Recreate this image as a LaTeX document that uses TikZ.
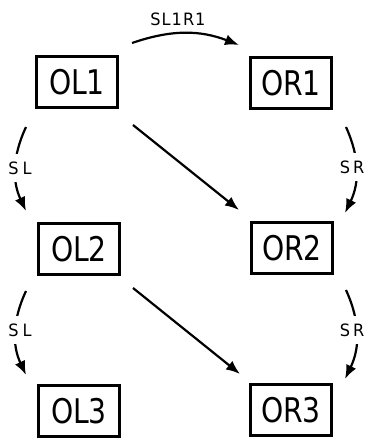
\documentclass[tikz,border=0pt]{standalone}
\usepackage{fontspec}
\setmainfont{DejaVu Sans}
\newfontfamily\boxfont[FakeStretch=0.83]{DejaVu Sans}
\newfontfamily\labfont[FakeStretch=0.95]{DejaVu Sans}
\usetikzlibrary{arrows.meta}
\tikzset{
  statebox/.style={draw, line width=2.3pt, minimum width=81pt, minimum height=51pt, inner sep=0pt,
    font=\boxfont\fontsize{34}{36}\selectfont},
  arr/.style={line width=2.2pt, -{Latex[length=14pt,width=11pt]}},
  lab/.style={font=\labfont\fontsize{17}{20}\selectfont},
  arclab/.style={lab, fill=white, inner xsep=1pt, inner ysep=8pt},
}
\begin{document}
\begin{tikzpicture}[x=1pt,y=-1pt]
\useasboundingbox (0,0) rectangle (366,441);
\node[statebox] (OL1) at (77,82) {OL1};
\node[statebox] (OR1) at (291,83) {OR1};
\node[statebox] (OL2) at (79,249) {OL2};
\node[statebox] (OR2) at (292,248) {OR2};
\node[statebox] (OL3) at (79,411) {OL3};
\node[statebox] (OR3) at (291,410) {OR3};
% connector ends
\coordinate (t1) at (132,43);   \coordinate (t2) at (239,45);
\coordinate (l1a) at (26,127);  \coordinate (l1b) at (26,211);
\coordinate (r1a) at (346,127); \coordinate (r1b) at (345,213);
\coordinate (l2a) at (26,291);  \coordinate (l2b) at (26,375);
\coordinate (r2a) at (346,290); \coordinate (r2b) at (345,379);
\coordinate (d1a) at (133,125); \coordinate (d1b) at (239,210);
\coordinate (d2a) at (133,288); \coordinate (d2b) at (240,374);
% arrows
\draw[arr] (t1) to[bend left=20] (t2);
\node[lab] (lt) at (178,19) {S\hspace{1pt}L\hspace{1pt}1\hspace{1pt}R\hspace{1pt}1};
\draw[arr] (l1a) to[bend right=25] (l1b);
\node[arclab] (ll1) at (20,168) {S\hspace{4pt}L};
\draw[arr] (r1a) to[bend left=25] (r1b);
\node[arclab] (lr1) at (352,167) {S\hspace{3pt}R};
\draw[arr] (l2a) to[bend right=25] (l2b);
\node[arclab] (ll2) at (20,330) {S\hspace{4pt}L};
\draw[arr] (r2a) to[bend left=25] (r2b);
\node[arclab] (lr2) at (352,330) {S\hspace{3pt}R};
\draw[arr] (d1a) -- (d1b);
\draw[arr] (d2a) -- (d2b);
\end{tikzpicture}
\end{document}
